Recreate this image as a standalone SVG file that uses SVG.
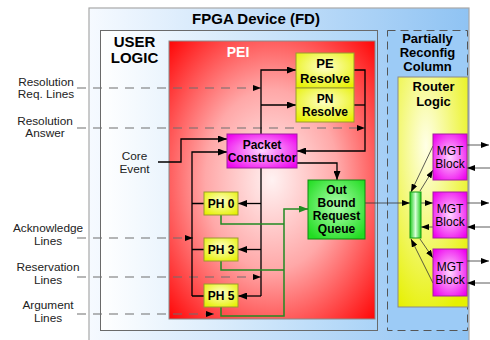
<svg xmlns="http://www.w3.org/2000/svg" width="490" height="340" viewBox="0 0 490 340">
<defs>
<linearGradient id="gOuter" x1="0" y1="0" x2="1" y2="0"><stop offset="0" stop-color="#f6faff"/><stop offset="1" stop-color="#8fc3f3"/></linearGradient>
<linearGradient id="gUser" x1="0" y1="0" x2="1" y2="0"><stop offset="0" stop-color="#ffffff"/><stop offset="1" stop-color="#aad3f7"/></linearGradient>
<radialGradient id="gRed" cx="0.5" cy="0.5" r="0.72"><stop offset="0" stop-color="#fff2f2"/><stop offset="0.45" stop-color="#ffa8a8"/><stop offset="1" stop-color="#ff0000"/></radialGradient>
<radialGradient id="gYel" cx="0.5" cy="0.4" r="0.7"><stop offset="0" stop-color="#ffffc8"/><stop offset="1" stop-color="#e6f000"/></radialGradient>
<radialGradient id="gMag" cx="0.5" cy="0.5" r="0.65"><stop offset="0" stop-color="#ffd4ff"/><stop offset="1" stop-color="#ee00ee"/></radialGradient>
<radialGradient id="gGrn" cx="0.5" cy="0.45" r="0.65"><stop offset="0" stop-color="#b0ffb0"/><stop offset="1" stop-color="#22dd22"/></radialGradient>
<linearGradient id="gBar" x1="0" y1="0" x2="1" y2="0"><stop offset="0" stop-color="#22cc22"/><stop offset="0.5" stop-color="#d8ffd8"/><stop offset="1" stop-color="#22cc22"/></linearGradient>
<radialGradient id="gRouter" cx="0.4" cy="0.3" r="0.8"><stop offset="0" stop-color="#ffffe6"/><stop offset="1" stop-color="#e6f000"/></radialGradient>
<marker id="ah" markerUnits="userSpaceOnUse" markerWidth="9" markerHeight="7" refX="9" refY="3.5" orient="auto"><path d="M0,0 L9,3.5 L0,7 z" fill="#000"/></marker>
<marker id="ahs" markerUnits="userSpaceOnUse" markerWidth="8" markerHeight="6" refX="8" refY="3" orient="auto"><path d="M0,0 L8,3 L0,6 z" fill="#000"/></marker>
<marker id="ahg" markerUnits="userSpaceOnUse" markerWidth="9" markerHeight="7" refX="9" refY="3.5" orient="auto"><path d="M0,0 L9,3.5 L0,7 z" fill="#228b22"/></marker>
</defs>
<style>
text{font-family:"Liberation Sans",Arial,sans-serif;text-anchor:middle;fill:#000}
.b{font-weight:bold}
.lbl{font-size:11.8px;fill:#222}
.box{stroke-width:1}
.yel{fill:url(#gYel);stroke:#9a9a30}
.mag{fill:url(#gMag);stroke:#a020a0}
.w{fill:none;stroke:#000;stroke-width:1.3}
.thin{fill:none;stroke:#333;stroke-width:0.8}
.dash{fill:none;stroke:#6e6e6e;stroke-width:1.2;stroke-dasharray:9 7}
.grn{fill:none;stroke:#228b22;stroke-width:1.5}
</style>

<g id="fpga">
<rect x="89" y="8" width="380" height="345" fill="url(#gOuter)" stroke="#a8a8a8" stroke-width="1.2"/>
<text x="256" y="24" class="b" font-size="15">FPGA Device (FD)</text>
</g>

<g id="user-logic">
<rect x="100.5" y="30.5" width="277" height="300" fill="url(#gUser)" stroke="#6a6a6a" stroke-width="1"/>
<text x="134.5" y="47" class="b" font-size="15">USER</text>
<text x="134.5" y="63" class="b" font-size="15">LOGIC</text>
</g>

<g id="pei">
<rect x="169" y="41" width="206" height="278" fill="url(#gRed)" stroke="#8a8a8a" stroke-width="1"/>
<text x="238" y="57" class="b" font-size="14" style="fill:#fff">PEI</text>
</g>

<g id="prc">
<rect x="387.5" y="30.5" width="80" height="300" fill="#9ccbf6" stroke="#555" stroke-width="1" stroke-dasharray="8 5"/>
<text x="427.5" y="42.5" class="b" font-size="13">Partially</text>
<text x="427.5" y="56.5" class="b" font-size="13">Reconfig</text>
<text x="427.5" y="70.5" class="b" font-size="13">Column</text>
</g>

<g id="router-logic">
<rect x="398" y="77" width="70" height="230" fill="url(#gRouter)" stroke="#8a8a8a" stroke-width="1"/>
<text x="433.5" y="91" class="b" font-size="13">Router</text>
<text x="433.5" y="105.5" class="b" font-size="13">Logic</text>
</g>

<g id="labels">
<text x="46" y="85.5" class="lbl">Resolution</text>
<text x="46" y="98" class="lbl">Req. Lines</text>
<text x="45" y="124.5" class="lbl">Resolution</text>
<text x="45" y="137" class="lbl">Answer</text>
<text x="134.5" y="160" class="lbl">Core</text>
<text x="134.5" y="173" class="lbl">Event</text>
<text x="48" y="231.5" class="lbl">Acknowledge</text>
<text x="48" y="244.5" class="lbl">Lines</text>
<text x="48" y="270.5" class="lbl">Reservation</text>
<text x="48" y="283.5" class="lbl">Lines</text>
<text x="48" y="309" class="lbl">Argument</text>
<text x="48" y="322" class="lbl">Lines</text>
</g>

<g id="connectors">
<path class="dash" d="M77,88 H261" marker-end="url(#ahs)"/>
<path class="dash" d="M77,128 H365" marker-end="url(#ahs)"/>
<path class="dash" d="M77,238 H193" marker-end="url(#ahs)"/>
<path class="dash" d="M77,277 H261" marker-end="url(#ahs)"/>
<path class="dash" d="M77,314 H214" marker-end="url(#ahs)"/>
<path class="w" d="M158,162 H181 V139 H227" marker-end="url(#ah)"/>
<path class="w" d="M192,296 V152 H227" marker-end="url(#ah)"/>
<path class="w" d="M192,203.5 H204 M192,249.5 H204 M192,296 H204"/>
<path class="w" d="M261,134 V70 H296" marker-end="url(#ah)"/>
<path class="w" d="M261,105 H296" marker-end="url(#ah)"/>
<path class="w" d="M261,168 V296"/>
<path class="w" d="M261,203.5 H238" marker-end="url(#ah)"/>
<path class="w" d="M261,249.5 H238" marker-end="url(#ah)"/>
<path class="w" d="M261,296 H238" marker-end="url(#ah)"/>
<path class="w" d="M354,70 H365 V151 H297" marker-end="url(#ah)"/>
<path class="w" d="M354,105 H365"/>
<path class="w" d="M297,163 H337 V180" marker-end="url(#ah)"/>
<path class="grn" d="M221,215 V224 H284 M221,261 V270 H284 M221,307 V316 H284 V209 H308" marker-end="url(#ahg)"/>
<path class="thin" d="M365,203 H410" marker-end="url(#ahs)"/>
<path class="thin" d="M421,203 H433" marker-end="url(#ahs)"/>
<path class="thin" d="M433,227 H421" marker-end="url(#ahs)"/>
<path class="thin" d="M433,146 L411,192" marker-end="url(#ahs)"/>
<path class="thin" d="M420,191 L433,170" marker-end="url(#ahs)"/>
<path class="thin" d="M420,239 L433,258" marker-end="url(#ahs)"/>
<path class="thin" d="M433,283 L411,239" marker-end="url(#ahs)"/>
<path class="thin" d="M467,145 H489" marker-end="url(#ahs)"/>
<path class="thin" d="M490,168 H467" stroke="#777" marker-end="url(#ahs)"/>
<path class="thin" d="M467,203 H489" marker-end="url(#ahs)"/>
<path class="thin" d="M490,227 H467" marker-end="url(#ahs)"/>
<path class="thin" d="M467,261 H489" marker-end="url(#ahs)"/>
<path class="thin" d="M490,283 H467" marker-end="url(#ahs)"/>
</g>

<g id="pe-resolve">
<rect x="296" y="53" width="58" height="35" class="yel box"/>
<text x="325" y="68" class="b" font-size="13">PE</text>
<text x="325" y="82.5" class="b" font-size="13">Resolve</text>
</g>
<g id="pn-resolve">
<rect x="296" y="88" width="58" height="34" class="yel box"/>
<text x="325" y="103" class="b" font-size="12">PN</text>
<text x="325" y="116" class="b" font-size="12">Resolve</text>
</g>
<g id="packet-constructor">
<rect x="227" y="134" width="70" height="34" class="mag box"/>
<text x="262" y="148.5" class="b" font-size="12">Packet</text>
<text x="262" y="161.5" class="b" font-size="12">Constructor</text>
</g>
<g id="outbound-queue">
<rect x="308" y="180" width="57" height="59" fill="url(#gGrn)" stroke="#118811" stroke-width="1"/>
<text x="336.5" y="193.5" class="b" font-size="12">Out</text>
<text x="336.5" y="206.8" class="b" font-size="12">Bound</text>
<text x="336.5" y="220" class="b" font-size="12">Request</text>
<text x="336.5" y="233.3" class="b" font-size="12">Queue</text>
</g>
<g id="ph0">
<rect x="204" y="192" width="34" height="23" class="yel box"/>
<text x="221" y="207.8" class="b" font-size="12">PH 0</text>
</g>
<g id="ph3">
<rect x="204" y="238" width="34" height="23" class="yel box"/>
<text x="221" y="253.8" class="b" font-size="12">PH 3</text>
</g>
<g id="ph5">
<rect x="204" y="284" width="34" height="23" class="yel box"/>
<text x="221" y="299.8" class="b" font-size="12">PH 5</text>
</g>
<g id="router-bar">
<rect x="410" y="192" width="11" height="46" fill="url(#gBar)" stroke="#119911" stroke-width="1"/>
</g>
<g id="mgt1">
<rect x="433" y="134" width="34" height="46" class="mag box"/>
<text x="450" y="155" font-size="12">MGT</text>
<text x="450" y="167.5" font-size="12">Block</text>
</g>
<g id="mgt2">
<rect x="433" y="192" width="34" height="46" class="mag box"/>
<text x="450" y="213" font-size="12">MGT</text>
<text x="450" y="225.5" font-size="12">Block</text>
</g>
<g id="mgt3">
<rect x="433" y="249" width="34" height="47" class="mag box"/>
<text x="450" y="271" font-size="12">MGT</text>
<text x="450" y="283.5" font-size="12">Block</text>
</g>
</svg>
